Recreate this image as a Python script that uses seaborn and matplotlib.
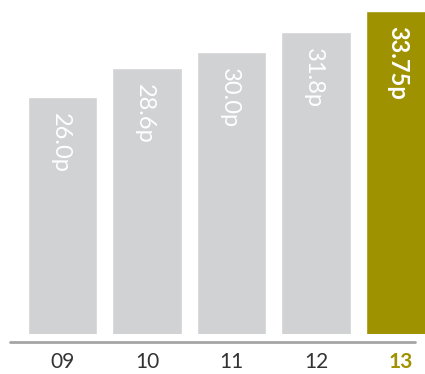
import matplotlib
matplotlib.use("Agg")
import matplotlib.pyplot as plt
import seaborn as sns
import pandas as pd

years = ["09", "10", "11", "12", "13"]
values = [26.0, 28.6, 30.0, 31.8, 33.75]
labels = ["26.0p", "28.6p", "30.0p", "31.8p", "33.75p"]

GRAY = "#d1d2d4"
OLIVE = "#9f9200"

sns.set_theme(style="white")
plt.rcParams['font.family'] = ['Lato', 'DejaVu Sans']

df = pd.DataFrame({"year": years, "value": values})
W, H = 425, 374
fig = plt.figure(figsize=(W / 100, H / 100), dpi=100)
ax = fig.add_axes([0, 40 / H, 1, 334 / H])

palette = [GRAY] * 4 + [OLIVE]
sns.barplot(data=df, x="year", y="value", hue="year", palette=palette,
            width=0.82, legend=False, ax=ax, saturation=1)

ymin = 4.75
ax.set_xlim(-0.74, 4.29)
ax.set_ylim(ymin, ymin + 334 / 11.15)
for s in ax.spines.values():
    s.set_visible(False)
ax.set_yticks([])
ax.set_xlabel("")
ax.set_ylabel("")
ax.tick_params(axis="x", length=0, pad=13, labelsize=15)
for i, t in enumerate(ax.get_xticklabels()):
    if i == 4:
        t.set_color(OLIVE)
        t.set_fontweight("bold")
    else:
        t.set_color("#333333")

# rough baseline
ax.plot([-0.62, 4.17], [ymin - 0.72, ymin - 0.72], color="#a5a5a5", lw=2, clip_on=False)

for i, (v, lab) in enumerate(zip(values, labels)):
    bold = i == 4
    ax.text(i - 0.03, v - 1.4, lab, rotation=-90, ha="center", va="top",
            color="white", fontsize=17, fontweight="bold" if bold else "normal")

fig.savefig("out.png", dpi=100)
